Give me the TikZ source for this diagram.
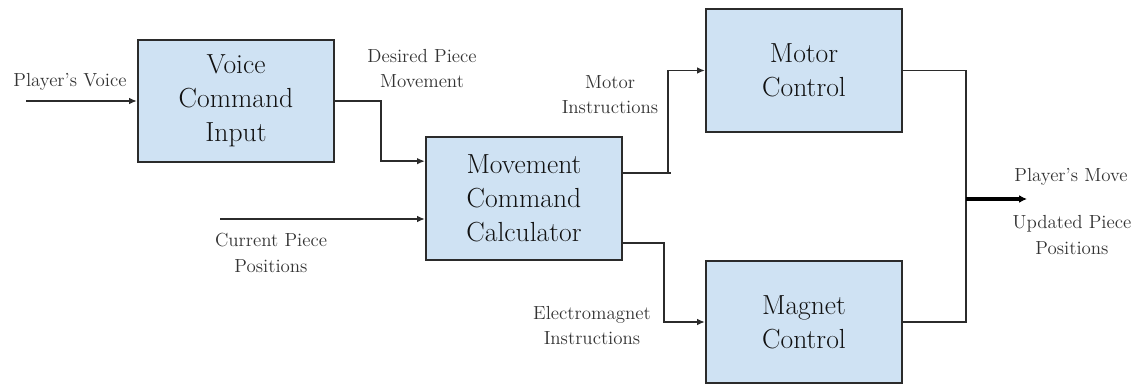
\documentclass[tikz,border=0pt]{standalone}
\usetikzlibrary{arrows.meta,calc}
\definecolor{boxfill}{HTML}{CFE2F3}
\definecolor{boxline}{HTML}{2B2B2B}
\definecolor{boxtext}{HTML}{111111}
\definecolor{labtext}{HTML}{333333}
\begin{document}
\begin{tikzpicture}[x=0.75pt,y=-0.75pt,
  block/.style={draw=boxline,fill=boxfill,line width=1.5pt,minimum width=147pt,minimum height=92pt,inner sep=0pt,align=center,text=boxtext,font=\fontsize{20.7}{25.5}\selectfont},
  lab/.style={align=center,text=labtext,font=\fontsize{14.2}{19}\selectfont,inner sep=0pt},
  line/.style={draw=boxline,line width=1.3pt},
  conn/.style={line,-{Latex[length=6pt,width=5pt]}},
  outarrow/.style={draw=black,line width=3pt,-{Latex[length=6pt,width=6pt]}}]
\useasboundingbox (0,0) rectangle (1138,385);
\node[block] (voice) at (236,101) {Voice\\Command\\Input};
\node[block] (movement) at (524,198.5) {Movement\\Command\\Calculator};
\node[block] (motor) at (804,70.5) {Motor\\Control};
\node[block] (magnet) at (804,322) {Magnet\\Control};
\coordinate (pv) at (26,101);
\coordinate (cp) at (220,219);
\coordinate (j) at (966,199);
\draw[conn] (pv) -- (voice.west);
\draw[conn] (voice.east) -- ++(46,0) |- ([yshift=28pt]movement.west);
\draw[conn] (cp) -- (cp -| movement.west);
\draw[line] ([yshift=19pt]movement.east) -- ++(48,0);
\draw[conn] ([yshift=19pt,xshift=33.75pt]movement.east) |- (motor.west);
\draw[conn] ([yshift=-33.4pt]movement.east) -- ++(41,0) |- (magnet.west);
\draw[line] (motor.east) -| (j);
\draw[line] (magnet.east) -| (j);
\draw[outarrow] (j) -- ++(61,0);
\node[lab] (lpv) at (70,82) {Player’s Voice};
\node[lab] (ldp) at (422,68.5) {Desired Piece\\Movement};
\node[lab] (lmi) at (610,94.5) {Motor\\Instructions};
\node[lab] (lcp) at (271,253) {Current Piece\\Positions};
\node[lab] (lei) at (592,325.5) {Electromagnet\\Instructions};
\node[lab] (lpm) at (1071,177) {Player’s Move};
\node[lab] (lup) at (1072,235) {Updated Piece\\Positions};
\end{tikzpicture}
\end{document}
